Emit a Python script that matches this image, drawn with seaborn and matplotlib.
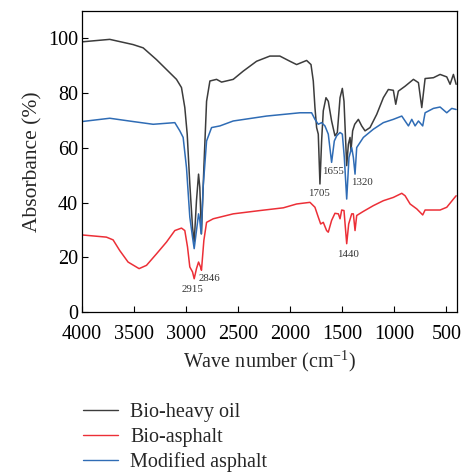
import numpy as np
import pandas as pd
import matplotlib
matplotlib.use("Agg")
import matplotlib.pyplot as plt
import seaborn as sns

# ---- data ----
heavy_wn = [4000, 3734, 3510, 3413, 3285, 3189, 3093, 3045, 3013, 2990, 2965, 2939, 2923, 2901,
            2881, 2869, 2853, 2830, 2804, 2772, 2708, 2660, 2548, 2452, 2324, 2196, 2100, 2003,
            1939, 1843, 1801, 1779, 1763, 1747, 1731, 1715, 1699, 1683, 1657, 1635, 1603, 1571,
            1548, 1522, 1500, 1484, 1468, 1458, 1442, 1426, 1417, 1401, 1381, 1346, 1314, 1282,
            1234, 1170, 1106, 1058, 1010, 987, 962, 897, 817, 769, 737, 705, 625, 561, 497, 465,
            433, 407]
heavy_ab = [98.7, 99.6, 97.7, 96.5, 92.2, 88.6, 85.0, 82.0, 74.7, 65.0, 46.8, 31.0, 25.6, 40.7,
            50.4, 45.6, 28.6, 52.8, 77.0, 84.4, 85.0, 84.0, 85.0, 88.0, 91.6, 93.5, 93.5, 91.6,
            90.4, 91.9, 90.4, 84.4, 74.7, 67.4, 65.0, 46.8, 62.5, 73.5, 78.3, 77.0, 69.8, 64.4,
            65.6, 78.3, 81.7, 77.0, 62.5, 53.5, 61.3, 63.8, 58.9, 66.2, 68.6, 70.4, 68.0, 66.2,
            67.4, 72.2, 78.3, 81.3, 81.0, 75.9, 80.7, 82.5, 85.0, 83.8, 74.7, 85.3, 85.6, 86.8,
            85.9, 83.2, 86.8, 83.2]

bio_wn = [4000, 3766, 3702, 3638, 3558, 3452, 3381, 3285, 3189, 3109, 3045, 3013, 2987, 2965,
          2939, 2923, 2901, 2881, 2862, 2853, 2830, 2804, 2740, 2548, 2292, 2067, 1939, 1811,
          1763, 1731, 1708, 1683, 1651, 1635, 1603, 1571, 1538, 1522, 1506, 1484, 1471, 1458,
          1439, 1410, 1394, 1378, 1362, 1298, 1202, 1106, 1010, 929, 897, 849, 785, 728, 705,
          561, 497, 433, 407]
bio_ab = [28.2, 27.4, 26.4, 22.5, 18.3, 15.9, 17.1, 21.3, 25.6, 29.8, 30.7, 29.8, 23.8, 16.5,
          14.7, 12.2, 15.9, 18.3, 16.5, 15.3, 26.2, 32.8, 34.1, 35.9, 37.1, 38.1, 39.5, 40.1,
          38.3, 34.7, 32.2, 32.8, 29.8, 29.2, 33.5, 36.1, 35.9, 34.1, 37.3, 37.1, 31.0, 25.0,
          32.2, 35.9, 35.9, 29.8, 35.3, 36.8, 38.9, 40.7, 41.9, 43.4, 42.5, 39.5, 37.7, 35.5,
          37.3, 37.3, 38.3, 41.3, 42.5]

mod_wn = [4000, 3734, 3510, 3317, 3109, 3061, 3029, 2997, 2965, 2939, 2923, 2901, 2881, 2869,
          2856, 2837, 2804, 2756, 2676, 2548, 2228, 1907, 1795, 1763, 1731, 1699, 1667, 1635,
          1603, 1577, 1554, 1522, 1500, 1481, 1458, 1436, 1410, 1394, 1378, 1362, 1298, 1202,
          1106, 1010, 929, 897, 865, 833, 801, 769, 728, 705, 625, 561, 497, 449, 407]
mod_ab = [69.6, 70.8, 69.6, 68.6, 69.2, 66.2, 63.8, 52.8, 34.7, 27.4, 23.2, 29.8, 35.9, 33.5,
          28.6, 45.6, 62.5, 67.4, 68.0, 69.8, 71.6, 72.8, 72.8, 70.4, 68.6, 69.2, 68.0, 65.0,
          54.7, 62.5, 64.4, 65.6, 65.0, 56.5, 41.3, 56.5, 60.1, 56.5, 50.4, 60.1, 63.8, 66.8,
          69.2, 70.4, 71.6, 69.8, 68.0, 70.4, 68.0, 69.8, 68.0, 72.8, 74.4, 74.9, 72.8, 74.4,
          74.0]

series_names = ["Bio-heavy oil", "Bio-asphalt", "Modified asphalt"]
series_colors = ["#3c3c3c", "#ec2f37", "#2f6cb5"]

peak_labels = ["2915", "2846", "1705", "1655", "1320", "1440"]
peak_label_x = [2936, 2772, 1724, 1589, 1310, 1445]
peak_label_y = [8.4, 12.4, 43.3, 51.3, 47.3, 21.1]

x_ticks = [4000, 3500, 3000, 2500, 2000, 1500, 1000, 500]
y_ticks = [0, 20, 40, 60, 80, 100]

frames = []
for name, wn, ab in zip(series_names, [heavy_wn, bio_wn, mod_wn], [heavy_ab, bio_ab, mod_ab]):
    frames.append(pd.DataFrame({"wn": wn, "ab": ab, "series": name}))
df = pd.concat(frames, ignore_index=True)

sns.set_theme(style="ticks")
plt.rcParams["font.family"] = ["Liberation Serif", "DejaVu Serif"]
plt.rcParams["mathtext.fontset"] = "custom"
plt.rcParams["mathtext.rm"] = "Liberation Serif"
plt.rcParams["mathtext.it"] = "Liberation Serif:italic"
plt.rcParams["mathtext.bf"] = "Liberation Serif:bold"

fig = plt.figure(figsize=(4.61, 4.73), dpi=100)
ax = fig.add_axes([0.178, 0.340, 0.813, 0.637])

sns.lineplot(data=df, x="wn", y="ab", hue="series", hue_order=series_names,
             palette=series_colors, sort=False, estimator=None, linewidth=1.1,
             ax=ax, legend=False)

for t, px, py in zip(peak_labels, peak_label_x, peak_label_y):
    ax.text(px, py, t, fontsize=7.8, color="#333333", ha="center", va="center")

ax.set_xlim(4000, 400)
ax.set_ylim(0, 110)
ax.set_xticks(x_ticks)
ax.set_yticks(y_ticks)
ax.tick_params(direction="in", length=4, width=0.8, labelsize=14.5, colors="black")
ax.tick_params(axis="x", pad=9)
ax.tick_params(axis="y", pad=3)
for s in ax.spines.values():
    s.set_linewidth(0.9)
    s.set_color("black")
ax.set_xlabel("Wave number (cm$^{\\mathrm{-1}}$)", fontsize=14.5, labelpad=4)
ax.set_ylabel("Absorbance (%)", fontsize=15.5, labelpad=4)

handles = [plt.Line2D([], [], color=c, lw=1.0) for c in series_colors]
fig.legend(handles, series_names, loc="upper left", bbox_to_anchor=(0.162, 0.165),
           frameon=False, fontsize=14.5, handlelength=1.75, handletextpad=0.6,
           labelspacing=0.27, borderaxespad=0)

fig.savefig("out.png", dpi=100)
